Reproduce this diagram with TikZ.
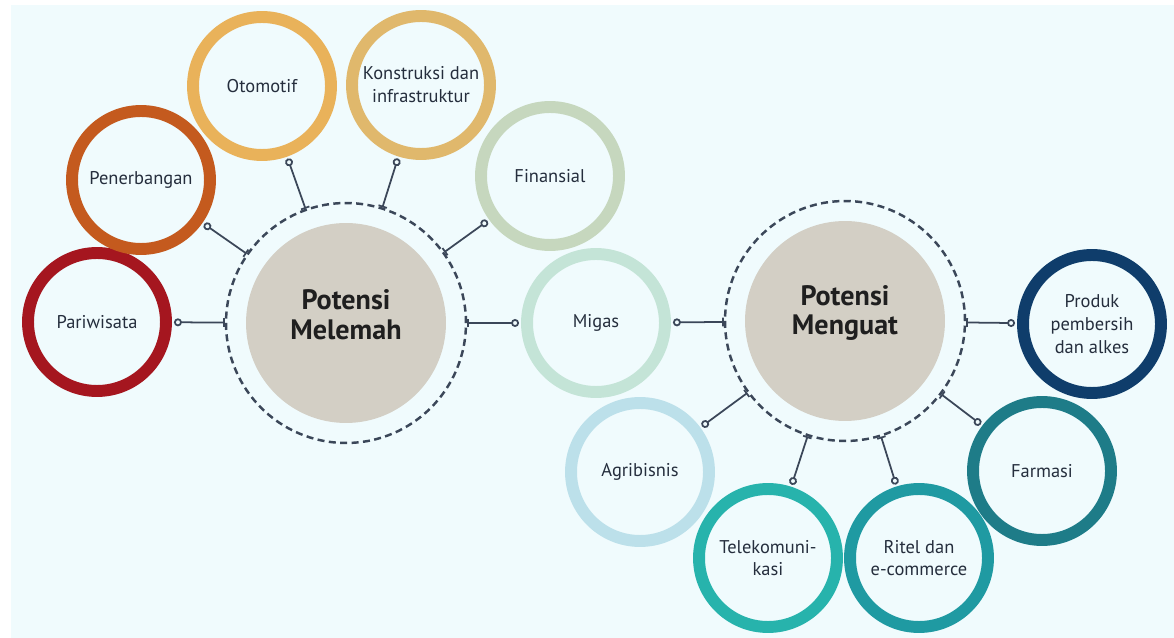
\documentclass[tikz,border=0pt]{standalone}
\usepackage{fontspec}
\setmainfont{PT Sans}
\usetikzlibrary{arrows.meta}
\definecolor{bgc}{HTML}{F0FBFD}
\definecolor{linec}{HTML}{3B4759}
\definecolor{textc}{HTML}{252E3D}
\definecolor{coreg}{HTML}{D3CFC5}
\definecolor{pari}{HTML}{A5161F}
\definecolor{pen}{HTML}{C45A1E}
\definecolor{oto}{HTML}{E9B25A}
\definecolor{kon}{HTML}{E0B86C}
\definecolor{fin}{HTML}{C6D7BE}
\definecolor{mig}{HTML}{C4E4D7}
\definecolor{agr}{HTML}{BCE0EA}
\definecolor{tel}{HTML}{27B3AC}
\definecolor{rit}{HTML}{1F9AA2}
\definecolor{far}{HTML}{1E7C88}
\definecolor{pro}{HTML}{0F3D6B}
\tikzset{
  ring/.style={circle,draw=#1,line width=6.8pt,minimum size=2.76cm,inner sep=0pt,
    outer sep=0.16cm,align=center,text=textc,font=\fontsize{10.5}{13}\selectfont},
  hub/.style={circle,draw=linec,line width=1.4pt,dash pattern=on 4pt off 2.5pt,
    minimum size=4.8cm,inner sep=0pt},
  core/.style={circle,fill=coreg,minimum size=4cm,inner sep=0pt},
  coretext/.style={align=center,text=black!88,font=\bfseries\fontsize{16}{17}\selectfont},
  link/.style={draw=linec,line width=1pt,arrows={Bar[width=5pt]-Circle[open,length=4.5pt,width=4.5pt]}}
}
\begin{document}
\begin{tikzpicture}[x=0.02cm,y=-0.02cm]
\useasboundingbox (0,0) rectangle (1174,638);
\fill[white] (0,0) rectangle (1174,638);
\fill[bgc] (11,5) rectangle (1174,638);
\node[hub] (mel) at (346,323) {};
\node[core] (melc) at (346,323) {};
\node[coretext] (melt) at (346,315) {Potensi\\Melemah};
\node[hub] (meng) at (845,321) {};
\node[core] (mengc) at (845,321) {};
\node[coretext] (mengt) at (845,313) {Potensi\\Menguat};
\node[ring=pari] (pari) at (97,322) {Pariwisata};
\node[ring=pen] (pen) at (141,180) {Penerbangan};
\node[ring=oto] (oto) at (262,86) {Otomotif};
\node[ring=kon] (kon) at (421,85) {Konstruksi dan\\infrastruktur};
\node[ring=fin] (fin) at (550,176) {Finansial};
\node[ring=mig] (mig) at (596,323) {Migas};
\node[ring=agr] (agr) at (640,472) {Agribisnis};
\node[ring=tel] (tel) at (768,558) {Telekomuni-\\kasi};
\node[ring=rit] (rit) at (919,558) {Ritel dan\\e-commerce};
\node[ring=far] (far) at (1042,471) {Farmasi};
\node[ring=pro] (pro) at (1092,324) {Produk\\pembersih\\dan alkes};
\foreach \b in {pari,pen,oto,kon,fin,mig}
  \draw[link] (mel) -- (\b);
\foreach \b in {mig,agr,tel,rit,far,pro}
  \draw[link] (meng) -- (\b);
\end{tikzpicture}
\end{document}
